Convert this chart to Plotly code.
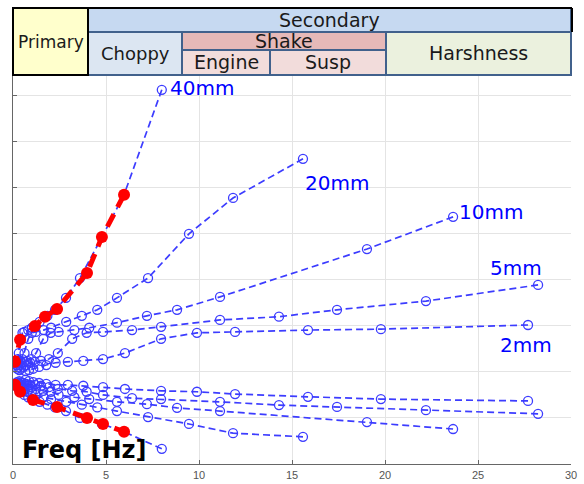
import plotly.graph_objects as go

# ---------------- data ----------------
x_ticks = [0, 5, 10, 15, 20, 25, 30]
y_grid = [1, 2, 3, 4, 5, 6, 7, 8]

x40 = [8.0, 5.97, 4.78, 3.6, 2.85, 2.26, 1.85, 1.43, 1.02, 0.82, 0.61, 0.51, 0.41, 0.31, 0.25, 0.19, 0.15, 0.12]
up40 = [8.13, 5.85, 4.93, 4.04, 3.61, 3.35, 3.22, 3.09, 2.96, 2.91, 2.87, 2.85, 2.72, 2.41, 2.28, 2.24, 2.22, 2.20]
lo40 = [0.33, 0.70, 0.87, 1.00, 1.15, 1.23, 1.29, 1.35, 1.41, 1.45, 1.50, 1.57, 1.59, 1.63, 1.67, 1.70, 1.72, 1.72]

x20 = [15.59, 11.83, 9.46, 7.26, 5.59, 4.53, 3.70, 2.86, 2.05, 1.65, 1.22, 1.01, 0.82, 0.62, 0.50, 0.39, 0.30, 0.24, 0.18]
up20 = [6.63, 5.78, 5.00, 4.04, 3.61, 3.35, 3.22, 3.09, 2.96, 2.91, 2.87, 2.85, 2.72, 2.41, 2.28, 2.24, 2.22, 2.20, 2.15]
lo20 = [0.59, 0.67, 0.87, 1.02, 1.15, 1.23, 1.29, 1.35, 1.41, 1.45, 1.50, 1.57, 1.59, 1.63, 1.67, 1.70, 1.72, 1.72, 1.74]

x10 = [23.66, 19.03, 11.13, 8.82, 7.20, 5.59, 4.10, 3.30, 2.45, 2.03, 1.63, 1.24, 0.99, 0.77, 0.60, 0.47, 0.37, 0.29, 0.22]
up10 = [5.37, 4.67, 3.63, 3.35, 3.22, 3.07, 2.96, 2.91, 2.87, 2.85, 2.72, 2.41, 2.28, 2.24, 2.22, 2.20, 2.15, 2.11, 2.07]
lo10 = [0.76, 0.91, 1.15, 1.22, 1.30, 1.35, 1.41, 1.45, 1.50, 1.57, 1.59, 1.63, 1.67, 1.70, 1.72, 1.72, 1.74, 1.76, 1.78]

x5 = [28.23, 22.2, 17.42, 14.3, 11.13, 7.96, 6.4, 4.84, 3.96, 3.18, 2.41, 1.93, 1.51, 1.18, 0.92, 0.72, 0.56, 0.44, 0.34]
up5 = [3.89, 3.54, 3.35, 3.20, 3.13, 2.98, 2.91, 2.87, 2.85, 2.72, 2.41, 2.28, 2.24, 2.22, 2.20, 2.15, 2.11, 2.07, 2.04]
lo5 = [1.09, 1.17, 1.24, 1.28, 1.35, 1.41, 1.43, 1.50, 1.57, 1.59, 1.63, 1.67, 1.70, 1.72, 1.72, 1.74, 1.76, 1.78, 1.80]

x2 = [27.69, 19.78, 15.86, 11.94, 9.89, 7.96, 6.02, 4.84, 3.78, 2.95, 2.29, 1.79, 1.40, 1.09, 0.86, 0.67]
up2 = [3.02, 2.93, 2.91, 2.87, 2.85, 2.72, 2.41, 2.28, 2.24, 2.22, 2.20, 2.15, 2.11, 2.07, 2.04, 2.02]
lo2 = [1.37, 1.41, 1.46, 1.52, 1.57, 1.59, 1.63, 1.67, 1.70, 1.72, 1.72, 1.74, 1.76, 1.78, 1.80, 1.83]

red_up_x = [5.97, 4.78, 3.98, 2.37, 1.72, 1.18, 0.38, 0.11]
red_up_y = [5.85, 4.93, 4.15, 3.37, 3.20, 3.00, 2.70, 2.22]
red_lo_x = [0.11, 0.38, 1.08, 2.37, 3.98, 4.84, 5.97]
red_lo_y = [1.72, 1.57, 1.39, 1.24, 1.00, 0.87, 0.70]

curve_labels = ["40mm", "20mm", "10mm", "5mm", "2mm"]
label_x = [8.35, 15.59, 23.85, 25.55, 26.05]
label_y = [8.17, 6.11, 5.48, 4.26, 2.59]

# ---------------- figure ----------------
BLUE = "rgb(60,60,255)"
fig = go.Figure()

curves = [(x40, up40, lo40), (x20, up20, lo20), (x10, up10, lo10), (x5, up5, lo5), (x2, up2, lo2)]
for xs, ups, los in curves:
    for ys in (ups, los):
        fig.add_trace(go.Scatter(
            x=xs, y=ys, mode="lines+markers",
            line=dict(color=BLUE, width=1.7, dash="7px,4px"),
            marker=dict(symbol="circle-open", size=9, color=BLUE, line=dict(width=1.3, color=BLUE)),
            hoverinfo="skip"))

for xs, ys in ((red_up_x, red_up_y), (red_lo_x, red_lo_y)):
    fig.add_trace(go.Scatter(
        x=xs, y=ys, mode="lines+markers",
        line=dict(color="red", width=5, dash="14px,8px"),
        marker=dict(symbol="circle", size=12, color="red"),
        hoverinfo="skip"))

annotations = []
for t, lx, ly in zip(curve_labels, label_x, label_y):
    annotations.append(dict(x=lx, y=ly, xref="x", yref="y", text=t, showarrow=False,
                            xanchor="left", yanchor="middle",
                            font=dict(family="DejaVu Sans", size=20, color="#0000FF")))

annotations.append(dict(x=0.0125, y=0.036, xref="paper", yref="paper", text="<b>Freq [Hz]</b>",
                        showarrow=False, xanchor="left", yanchor="middle",
                        font=dict(family="DejaVu Sans", size=24, color="black")))

# ---- header table (pixel geometry -> paper coordinates) ----
L, R, B, T = 13, 571, 464, 76
def px(xp):
    return (xp - L) / (R - L)
def py(yp):
    return (B - yp) / (B - T)

EDGE = "#41618C"
cells = [
    # x0, x1, y0(top px), y1(bottom px), fill, text, size
    (88, 571, 8, 32, "#C6D9F1", "Secondary", 19),
    (88, 182, 32, 75, "#DCE6F2", "Choppy", 18),
    (182, 386, 32, 50, "#E6B9B8", "Shake", 19),
    (182, 270, 50, 75, "#F2DCDB", "Engine", 19),
    (270, 386, 50, 75, "#F2DCDB", "Susp", 19),
    (386, 571, 32, 75, "#EBF1DE", "Harshness", 19),
]
shapes = []
for x0, x1, y0, y1, fill, text, size in cells:
    shapes.append(dict(type="rect", xref="paper", yref="paper",
                       x0=px(x0), x1=px(x1), y0=py(y1), y1=py(y0),
                       fillcolor=fill, line=dict(color=EDGE, width=2), layer="above"))
    annotations.append(dict(x=px((x0 + x1) / 2), y=py((y0 + y1) / 2), xref="paper", yref="paper",
                            text=text, showarrow=False, xanchor="center", yanchor="middle",
                            font=dict(family="DejaVu Sans", size=size, color="#1a1a1a")))
# Primary cell with black border
shapes.append(dict(type="rect", xref="paper", yref="paper",
                   x0=px(13), x1=px(88), y0=py(75), y1=py(8),
                   fillcolor="#FFFFCC", line=dict(color="black", width=2), layer="above"))
annotations.append(dict(x=px(50.5), y=py(42), xref="paper", yref="paper", text="Primary",
                        showarrow=False, xanchor="center", yanchor="middle",
                        font=dict(family="DejaVu Sans", size=17, color="#1a1a1a")))
# outer black edges of the header
shapes.append(dict(type="line", xref="paper", yref="paper", x0=px(13), x1=px(572), y0=py(8), y1=py(8),
                   line=dict(color="black", width=2)))
shapes.append(dict(type="line", xref="paper", yref="paper", x0=px(572), x1=px(572), y0=py(8), y1=py(32),
                   line=dict(color="black", width=2)))

fig.update_layout(
    width=584, height=484,
    margin=dict(l=L, r=584 - R, t=T, b=484 - B, autoexpand=False),
    plot_bgcolor="white", paper_bgcolor="white",
    showlegend=False,
    annotations=annotations, shapes=shapes,
)
fig.update_xaxes(range=[0, 30], tickvals=x_ticks, ticktext=[str(v) for v in x_ticks],
                 showgrid=True, gridcolor="#e4e4e4", gridwidth=1, zeroline=False,
                 showline=True, linecolor="#666", linewidth=1, automargin=False,
                 ticks="inside", ticklen=4, tickcolor="#666", ticklabelstandoff=1,
                 tickfont=dict(family="Liberation Sans", size=11, color="#555"))
fig.update_yaxes(range=[0, 8.43], tickvals=y_grid, showticklabels=False, automargin=False,
                 showgrid=True, gridcolor="#e4e4e4", gridwidth=1, zeroline=False,
                 showline=True, linecolor="#666", linewidth=1,
                 ticks="inside", ticklen=4, tickcolor="#666")

fig.write_html("out.html")
